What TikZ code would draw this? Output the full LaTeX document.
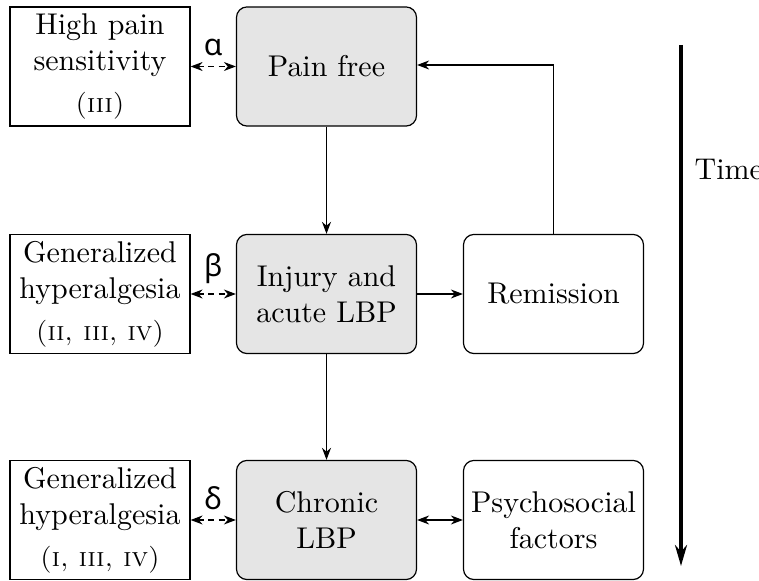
\documentclass[tikz,border=0pt]{standalone}
\usepackage{fontspec}
\usetikzlibrary{arrows.meta}
\newfontfamily\greekfont{Noto Sans}

\tikzset{
  tip/.style={-{Stealth[length=4pt,width=3pt]}},
  tips/.style={{Stealth[length=4pt,width=3pt]}-{Stealth[length=4pt,width=3pt]}},
  factor/.style={draw, minimum width=60pt, minimum height=39.7pt, align=center, inner sep=1pt},
  stage/.style={factor, rounded corners=3.5pt, fill=gray!20},
  outcome/.style={factor, rounded corners=3.5pt},
  link/.style={tips, dash pattern=on 2pt off 1.4pt}
}
\newcommand{\refs}[1]{\\[2pt]{\small\textsc{#1}}}

\begin{document}
\begin{tikzpicture}[x=0.3333pt, y=-0.3333pt]
        \useasboundingbox (0, 0) rectangle (759, 581);

        % middle column
        \node[stage] (free) at (326.5, 66.5) {Pain free};
        \node[stage] (acute) at (326.5, 294) {Injury and\\acute LBP};
        \node[stage] (chronic) at (326.5, 520) {Chronic\\LBP};

        % left column
        \node[factor] (sens) at (100, 66.5) {High pain\\sensitivity\refs{(iii)}};
        \node[factor] (hyper1) at (100, 294) {Generalized\\hyperalgesia\refs{(ii, iii, iv)}};
        \node[factor] (hyper2) at (100, 520) {Generalized\\hyperalgesia\refs{(i, iii, iv)}};

        % right column
        \node[outcome] (remis) at (553.5, 294) {Remission};
        \node[outcome] (psych) at (553.5, 520) {Psychosocial\\factors};

        \draw[link] (sens) -- node[above] {\greekfont α} (free);
        \draw[link] (hyper1) -- node[above] {\greekfont β} (acute);
        \draw[link] (hyper2) -- node[above] {\greekfont δ} (chronic);

        \draw[tip] (free) -- (acute);
        \draw[tip] (acute) -- (chronic);
        \draw[tip] (acute) -- (remis);
        \draw[tips] (chronic) -- (psych);
        \draw[tip] (remis.north) |- (free.east |- 0, 65);

        % time axis
        \coordinate (t0) at (681, 45);
        \coordinate (t1) at (681, 566);
        \draw[very thick, -{Stealth[length=7pt,width=4pt]}] (t0) -- (t1);
        \node[anchor=west, inner sep=0pt] (time) at (694, 170) {Time};
\end{tikzpicture}
\end{document}
